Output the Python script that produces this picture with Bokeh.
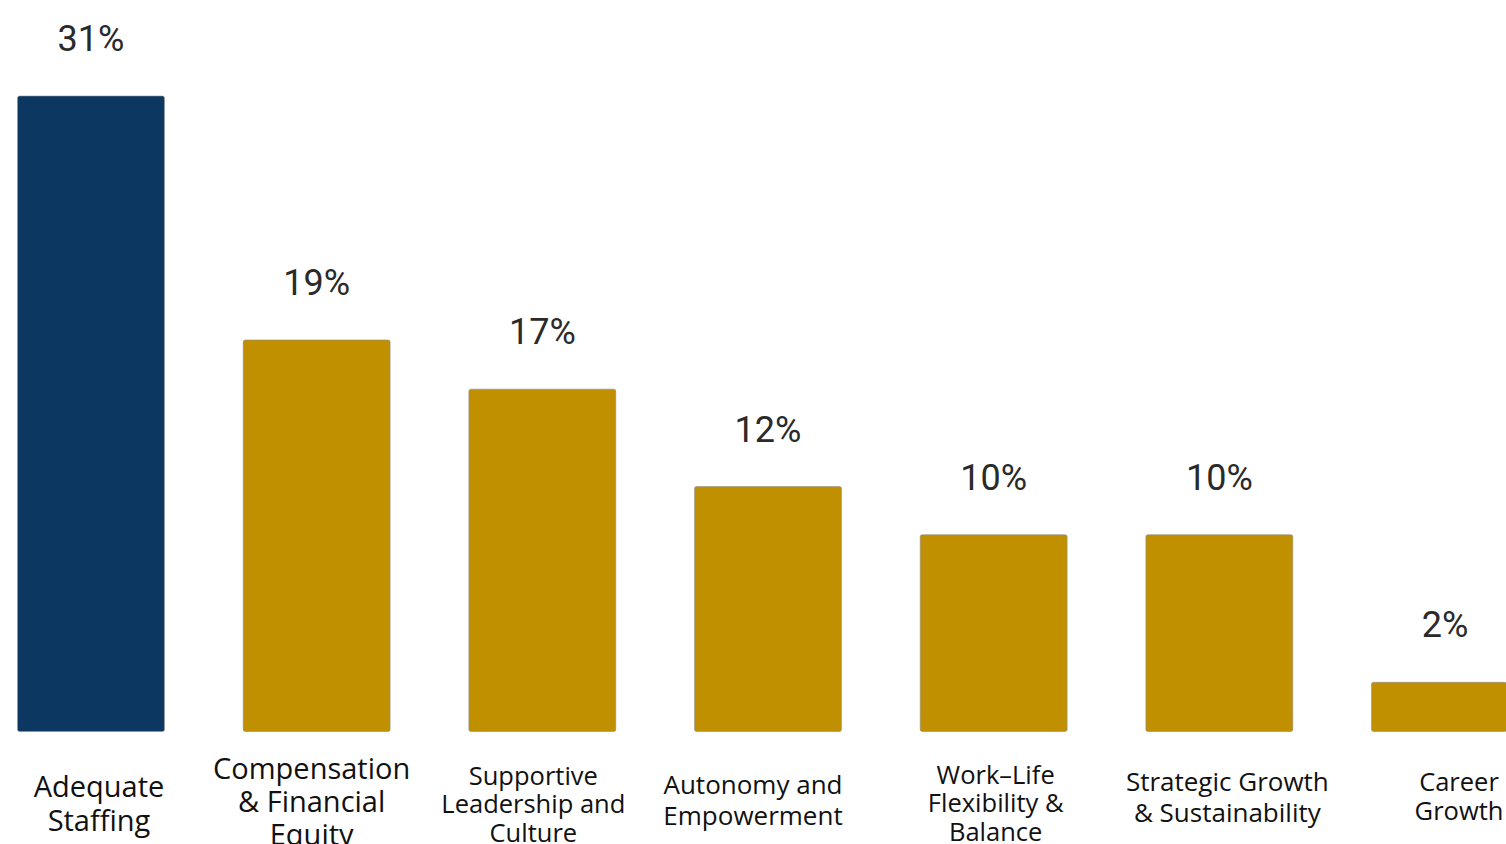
from bokeh.plotting import figure
from bokeh.models import ColumnDataSource, Range1d
from bokeh.core.properties import value
from bokeh.embed import file_html
from bokeh.resources import INLINE

# ---- data ----
categories = [
    "Adequate\nStaffing",
    "Compensation\n& Financial\nEquity",
    "Supportive\nLeadership and\nCulture",
    "Autonomy and\nEmpowerment",
    "Work\u2013Life\nFlexibility &\nBalance",
    "Strategic Growth\n& Sustainability",
    "Career\nGrowth",
]
values = [31.0, 19.1, 16.7, 11.95, 9.6, 9.6, 2.4]
value_labels = ["31%", "19%", "17%", "12%", "10%", "10%", "2%"]

# ---- styling ----
NAVY = "#0b3760"
GOLD = "#c09000"
bar_colors = [NAVY] + [GOLD] * 6
label_sizes = ["29px", "29px", "25.5px", "26px", "25.5px", "26px", "25.5px"]
label_dx = [8, -5, -9, -15, 2, 8, 14]
label_dy = [71, 69, 72, 68, 71, 65, 64]

xs = list(range(len(categories)))
src = ColumnDataSource(dict(
    x=xs, top=values, color=bar_colors, vlab=value_labels,
    cat=categories, size=label_sizes, dx=label_dx, dy=label_dy,
))

p = figure(width=1506, height=844, output_backend="svg", toolbar_location=None,
           x_range=Range1d(-0.401, 6.2725), y_range=Range1d(-5.512, 35.659),
           min_border=0, min_border_left=0, min_border_right=0,
           min_border_top=0, min_border_bottom=0)
p.axis.visible = False
p.grid.visible = False
p.outline_line_color = None
p.background_fill_color = "white"
p.border_fill_color = "white"

p.vbar(x="x", top="top", bottom=0, width=0.651, fill_color="color",
       line_color="#8f8f8f", line_width=1, line_alpha=0.6, border_radius=2, source=src)

p.text(x="x", y="top", text="vlab", source=src, text_align="center",
       text_baseline="alphabetic", y_offset=-57,
       text_font=value("Roboto"), text_font_size="36px", text_color="#2a2a2a")

p.text(x="x", y=0, text="cat", source=src, text_align="center",
       text_baseline="middle", x_offset="dx", y_offset="dy",
       text_font=value("Open Sans"), text_font_size="size", text_color="#111111",
       text_line_height=0.85)

open("out.html", "w").write(file_html(p, INLINE))
